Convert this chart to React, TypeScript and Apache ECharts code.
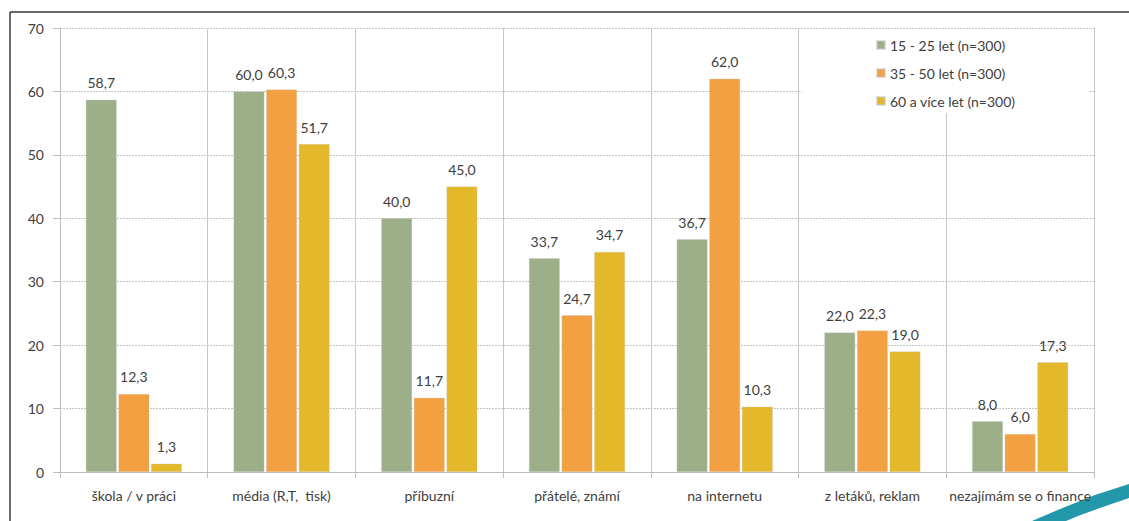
import React, { useEffect, useRef } from "react";
import * as echarts from "echarts";

const categories = [
  "škola / v práci",
  "média (R,T,  tisk)",
  "příbuzní",
  "přátelé, známí",
  "na internetu",
  "z letáků, reklam",
  "nezajímám se o finance",
];
const seriesNames = ["15 - 25 let (n=300)", "35 - 50 let (n=300)", "60 a více let (n=300)"];
const young = [58.7, 60.0, 40.0, 33.7, 36.7, 22.0, 8.0];
const middle = [12.3, 60.3, 11.7, 24.7, 62.0, 22.3, 6.0];
const old = [1.3, 51.7, 45.0, 34.7, 10.3, 19.0, 17.3];
const colors = ["#9CAF88", "#F2A041", "#E3B82A"];
const yTicks = { min: 0, max: 70, interval: 10 };

const FONT = "Lato, 'Open Sans', sans-serif";
const TEXT = "#404040";

export default function App() {
  const ref = useRef<HTMLDivElement>(null);
  useEffect(() => {
    if (!ref.current) return;
    const chart = echarts.init(ref.current, undefined, { renderer: "svg" });
    const dataSets = [young, middle, old];
    chart.setOption({
      animation: false,
      backgroundColor: "#ffffff",
      textStyle: { fontFamily: FONT, color: TEXT },
      grid: { left: 60, right: 35, top: 28, bottom: 49, containLabel: false },
      legend: {
        orient: "vertical",
        left: 802,
        top: 29,
        backgroundColor: "#ffffff",
        padding: [9, 73, 5, 74],
        itemWidth: 8,
        itemHeight: 8,
        itemGap: 14,
        icon: "rect",
        textStyle: { fontFamily: FONT, fontSize: 14, color: TEXT, lineHeight: 14 },
        data: seriesNames,
      },
      xAxis: {
        type: "category",
        data: categories,
        axisLine: { show: true, lineStyle: { color: "#bdbdbd", width: 1 } },
        axisTick: { show: true, length: 6, lineStyle: { color: "#bdbdbd" } },
        splitLine: { show: true, lineStyle: { color: "#c8c8c8", width: 1 } },
        axisLabel: {
          interval: 0,
          margin: 16,
          fontFamily: FONT,
          fontSize: 14,
          color: TEXT,
        },
      },
      yAxis: {
        type: "value",
        min: yTicks.min,
        max: yTicks.max,
        interval: yTicks.interval,
        axisLine: { show: true, lineStyle: { color: "#bdbdbd", width: 1 } },
        axisTick: { show: true, length: 7, lineStyle: { color: "#bdbdbd" } },
        splitLine: { show: true, lineStyle: { color: "#c4c4c4", type: [2, 1], width: 1 } },
        axisLabel: { margin: 16, fontFamily: FONT, fontSize: 14, color: TEXT },
      },
      series: dataSets.map((d, i) => ({
        name: seriesNames[i],
        type: "bar",
        data: d,
        barGap: "6%",
        barCategoryGap: "35%",
        itemStyle: { color: colors[i], borderColor: "rgba(200,200,200,0.6)", borderWidth: 0.5 },
        label: {
          show: true,
          position: "top",
          distance: 10,
          fontFamily: FONT,
          fontSize: 14,
          color: TEXT,
          formatter: (p: any) => Number(p.value).toFixed(1).replace(".", ","),
        },
      })),
      graphic: [
        {
          type: "line",
          shape: { x1: 10, y1: 12, x2: 1129, y2: 12 },
          style: { stroke: "#3a3a3a", lineWidth: 1.5 },
          silent: true,
        },
        {
          type: "line",
          shape: { x1: 10, y1: 12, x2: 10, y2: 521 },
          style: { stroke: "#3a3a3a", lineWidth: 1.5 },
          silent: true,
        },
        {
          type: "polygon",
          shape: {
            points: [
              [1032, 521],
              [1060, 509],
              [1095, 495],
              [1129, 484],
              [1129, 498],
              [1100, 508],
              [1078, 516],
              [1066, 521],
            ],
          },
          style: { fill: "#2398AB" },
          silent: true,
        },
      ],
    });
    return () => chart.dispose();
  }, []);
  return (
    <div
      ref={ref}
      style={{ position: "fixed", left: 0, top: 0, width: 1129, height: 521 }}
    />
  );
}
